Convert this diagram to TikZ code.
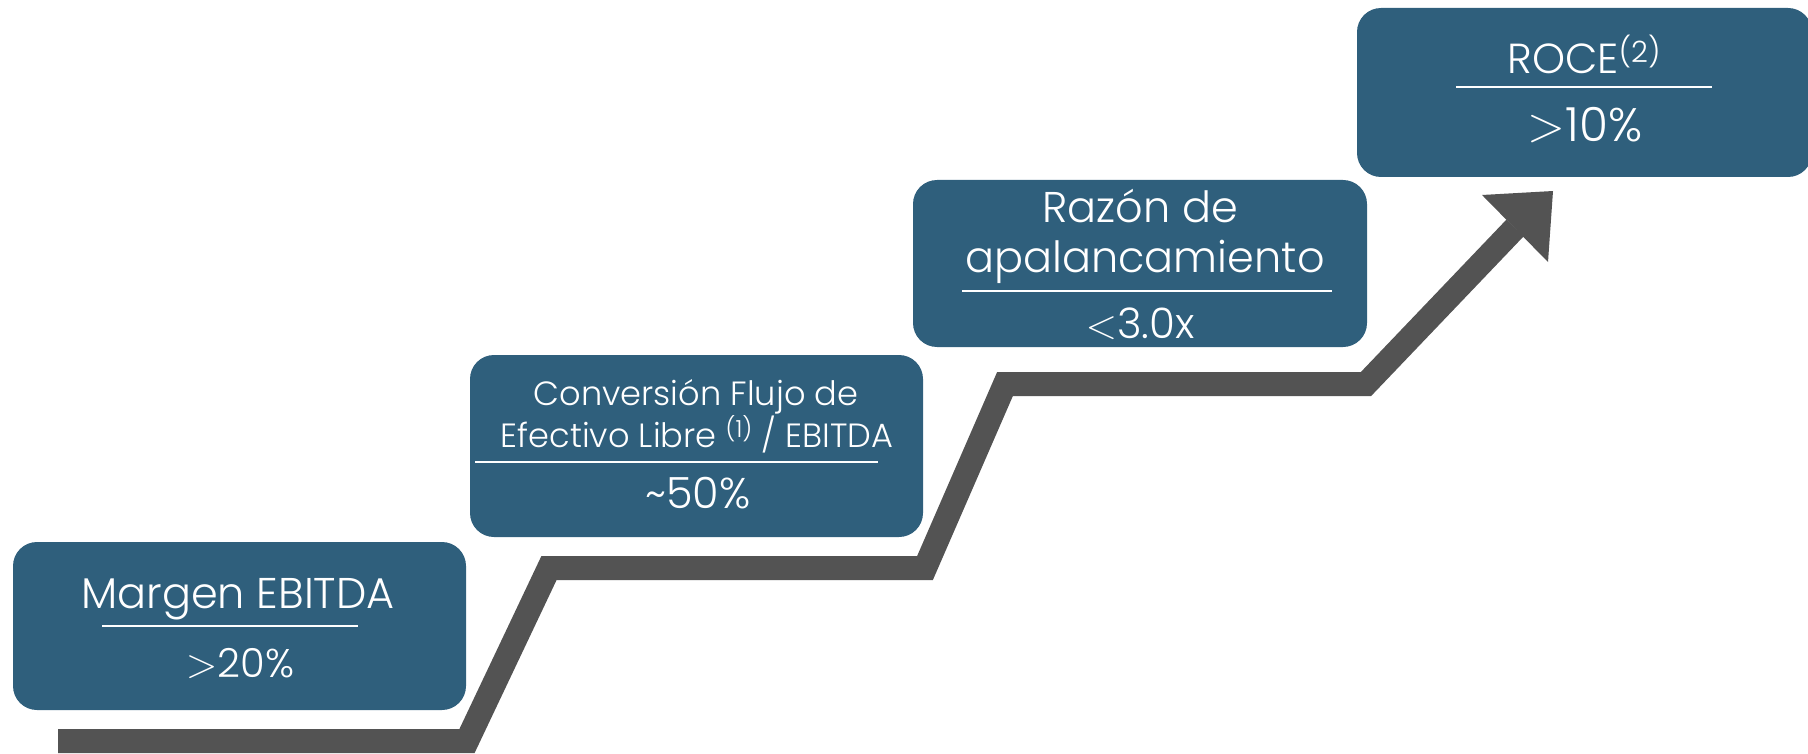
\documentclass[tikz,border=0pt]{standalone}
\usepackage{fontspec}
\setmainfont{Poppins}[UprightFont=* Light]
\definecolor{boxblue}{HTML}{2F5F7C}
\definecolor{stairgray}{HTML}{535353}
\newcommand{\supnum}[1]{\raisebox{0.28em}{\fontsize{0.7\dimexpr\csname f@size\endcsname pt\relax}{0pt}\selectfont #1}}
\tikzset{
  box/.style={rectangle, rounded corners=12pt, fill=boxblue, inner sep=0pt},
  label/.style={anchor=base, text=white, inner sep=0pt},
  rule/.style={draw=white, line width=1.1pt},
  stair/.style={draw=stairgray, line width=12pt, line join=miter, line cap=butt},
}
\begin{document}
\begin{tikzpicture}[x=0.5pt, y=-0.5pt]
\useasboundingbox (0,0) rectangle (1808,754);
% staircase
\coordinate (p0) at (58,741);
\coordinate (p1) at (467,741);
\coordinate (p2) at (549,568);
\coordinate (p3) at (925,568);
\coordinate (p4) at (1005,384);
\coordinate (p5) at (1366,384);
\coordinate (p6) at (1515,228);
\coordinate (h1) at (1482,195);
\coordinate (h2) at (1553,191);
\coordinate (h3) at (1548,262);
\draw[stair] (p0) -- (p1) -- (p2) -- (p3) -- (p4) -- (p5) -- (p6);
\fill[stairgray] (h1) -- (h2) -- (h3) -- cycle;
% boxes
\node[box, minimum width=226.5pt, minimum height=84pt] (b1) at (239.5,626) {};
\node[box, minimum width=226.5pt, minimum height=91pt] (b2) at (696.5,446) {};
\node[box, minimum width=227pt, minimum height=83.5pt] (b3) at (1140,263.5) {};
\node[box, minimum width=227.5pt, minimum height=84.5pt] (b4) at (1584.5,92.5) {};
% box 1
\node[label, font=\fontsize{21.5}{24}\selectfont] (t1) at (238,608) {Margen EBITDA};
\coordinate (r1a) at (102,626); \coordinate (r1b) at (358,626);
\draw[rule] (r1a) -- (r1b);
\node[label, font=\fontsize{20}{22}\selectfont] (v1) at (240,677) {$>$20\%};
% box 2
\node[label, font=\fontsize{16.8}{18}\selectfont] (t2a) at (696,405) {Conversión Flujo de};
\node[label, font=\fontsize{16.8}{18}\selectfont] (t2b) at (697,447) {Efectivo Libre \supnum{(1)} / EBITDA};
\coordinate (r2a) at (475,462); \coordinate (r2b) at (878,462);
\draw[rule] (r2a) -- (r2b);
\node[label, font=\fontsize{21.5}{22}\selectfont] (v2) at (698,508) {\textasciitilde50\%};
% box 3
\node[label, font=\fontsize{21.5}{24}\selectfont] (t3a) at (1140,222) {Razón de};
\node[label, font=\fontsize{21.5}{24}\selectfont] (t3b) at (1145,272) {apalancamiento};
\coordinate (r3a) at (962,291); \coordinate (r3b) at (1332,291);
\draw[rule] (r3a) -- (r3b);
\node[label, font=\fontsize{21}{22}\selectfont] (v3) at (1140,338) {$<$3.0x};
% box 4
\node[label, font=\fontsize{21}{24}\selectfont] (t4) at (1584,74) {ROCE\supnum{(2)}};
\coordinate (r4a) at (1456,87); \coordinate (r4b) at (1712,87);
\draw[rule] (r4a) -- (r4b);
\node[label, font=\fontsize{23.5}{24}\selectfont] (v4) at (1585,142) {$>$10\%};
\end{tikzpicture}
\end{document}
